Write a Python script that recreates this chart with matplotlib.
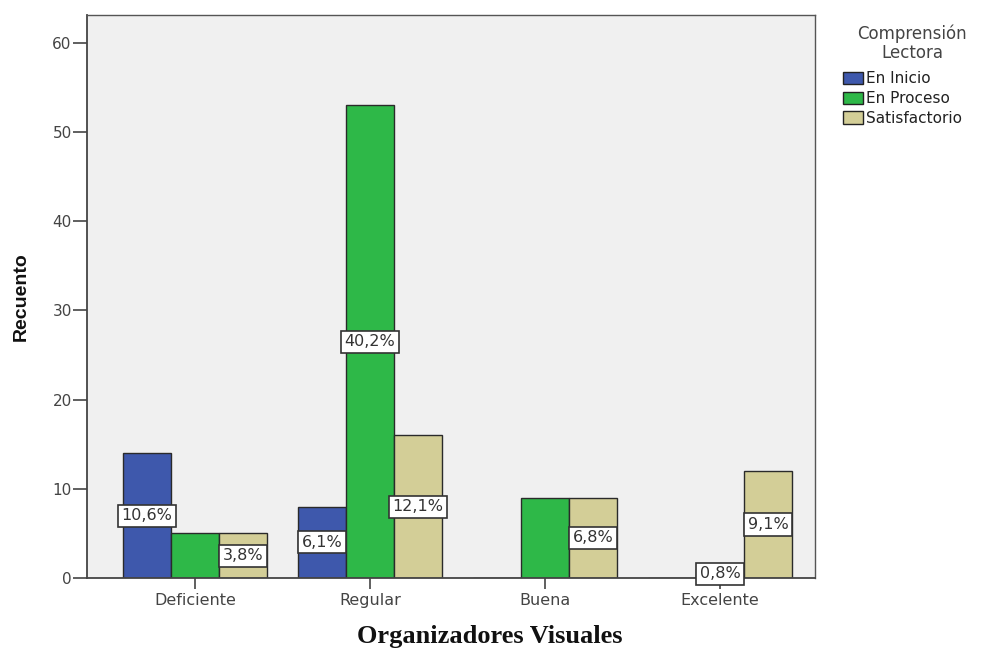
import matplotlib
matplotlib.use("Agg")
import matplotlib.pyplot as plt
import numpy as np

categories = ["Deficiente", "Regular", "Buena", "Excelente"]
series_names = ["En Inicio", "En Proceso", "Satisfactorio"]
en_inicio = [14, 8, 0, 0]
en_proceso = [5, 53, 9, 1]
satisfactorio = [5, 16, 9, 12]
labels_inicio = ["10,6%", "6,1%", "", ""]
labels_proceso = ["", "40,2%", "", "0,8%"]
labels_satisf = ["3,8%", "12,1%", "6,8%", "9,1%"]
yticks = [0, 10, 20, 30, 40, 50, 60]

colors = ["#3E58AC", "#2EB848", "#D3CE97"]
series = [en_inicio, en_proceso, satisfactorio]
labels = [labels_inicio, labels_proceso, labels_satisf]

plt.rcParams['font.family'] = ['DejaVu Sans']

fig = plt.figure(figsize=(9.82, 6.51), dpi=100)
ax = fig.add_axes([87/982, 1-578/651, (815-87)/982, (578-15)/651])
ax.set_facecolor("#F0F0F0")

x = np.arange(len(categories))
w = 48/175
for i, (vals, col, labs) in enumerate(zip(series, colors, labels)):
    pos = x + (i - 1) * w
    ax.bar(pos, vals, width=w, color=col, edgecolor="#2a2a2a", linewidth=1.0,
           label=series_names[i], zorder=2)
    for p, v, lab in zip(pos, vals, labs):
        if lab:
            ax.text(p, v / 2, lab, ha="center", va="center", fontsize=11.5, color="#333333",
                    zorder=4,
                    bbox=dict(boxstyle="square,pad=0.22", facecolor="white",
                              edgecolor="#333333", linewidth=1.2))

ax.set_xlim(-0.617, 3.543)
ax.set_ylim(0, 63.14)
ax.set_xticks(x)
ax.set_xticklabels(categories, fontsize=11.5, color="#444444")
ax.set_yticks(yticks)
ax.set_yticklabels([str(t) for t in yticks], fontsize=11, color="#444444")
ax.tick_params(axis="x", direction="out", length=8, width=1.2, color="#444444", pad=3)
ax.tick_params(axis="y", direction="out", length=10, width=1.2, color="#444444", pad=1)
for s in ["left", "bottom"]:
    ax.spines[s].set_color("#444444")
    ax.spines[s].set_linewidth(1.3)
for s in ["top", "right"]:
    ax.spines[s].set_color("#555555")
    ax.spines[s].set_linewidth(1.0)

ax.set_ylabel("Recuento", fontsize=14, fontweight="bold", color="#111111",
              family="Liberation Sans")
ax.yaxis.set_label_coords(-(87-30)/728, 0.5)
fig.text(490/982, 1-637/651, "Organizadores Visuales", ha="center", va="center",
         fontsize=19, fontweight="bold", family="Liberation Serif", color="#111111")

fig.text(912/982, 1-43/651, "Comprensión\nLectora", ha="center", va="center",
         fontsize=12, color="#444444", linespacing=1.05, multialignment="center")
leg = fig.legend(loc="upper left", bbox_to_anchor=(843/982, 1-71/651),
                 fontsize=11, frameon=False, handlelength=1.3, handleheight=0.85,
                 handletextpad=0.2, labelspacing=0.32, borderaxespad=0, borderpad=0)
for t in leg.get_texts():
    t.set_color("#222222")
for h in leg.legend_handles:
    h.set_edgecolor("#222222")

fig.savefig("out.png", dpi=100, facecolor="white")
